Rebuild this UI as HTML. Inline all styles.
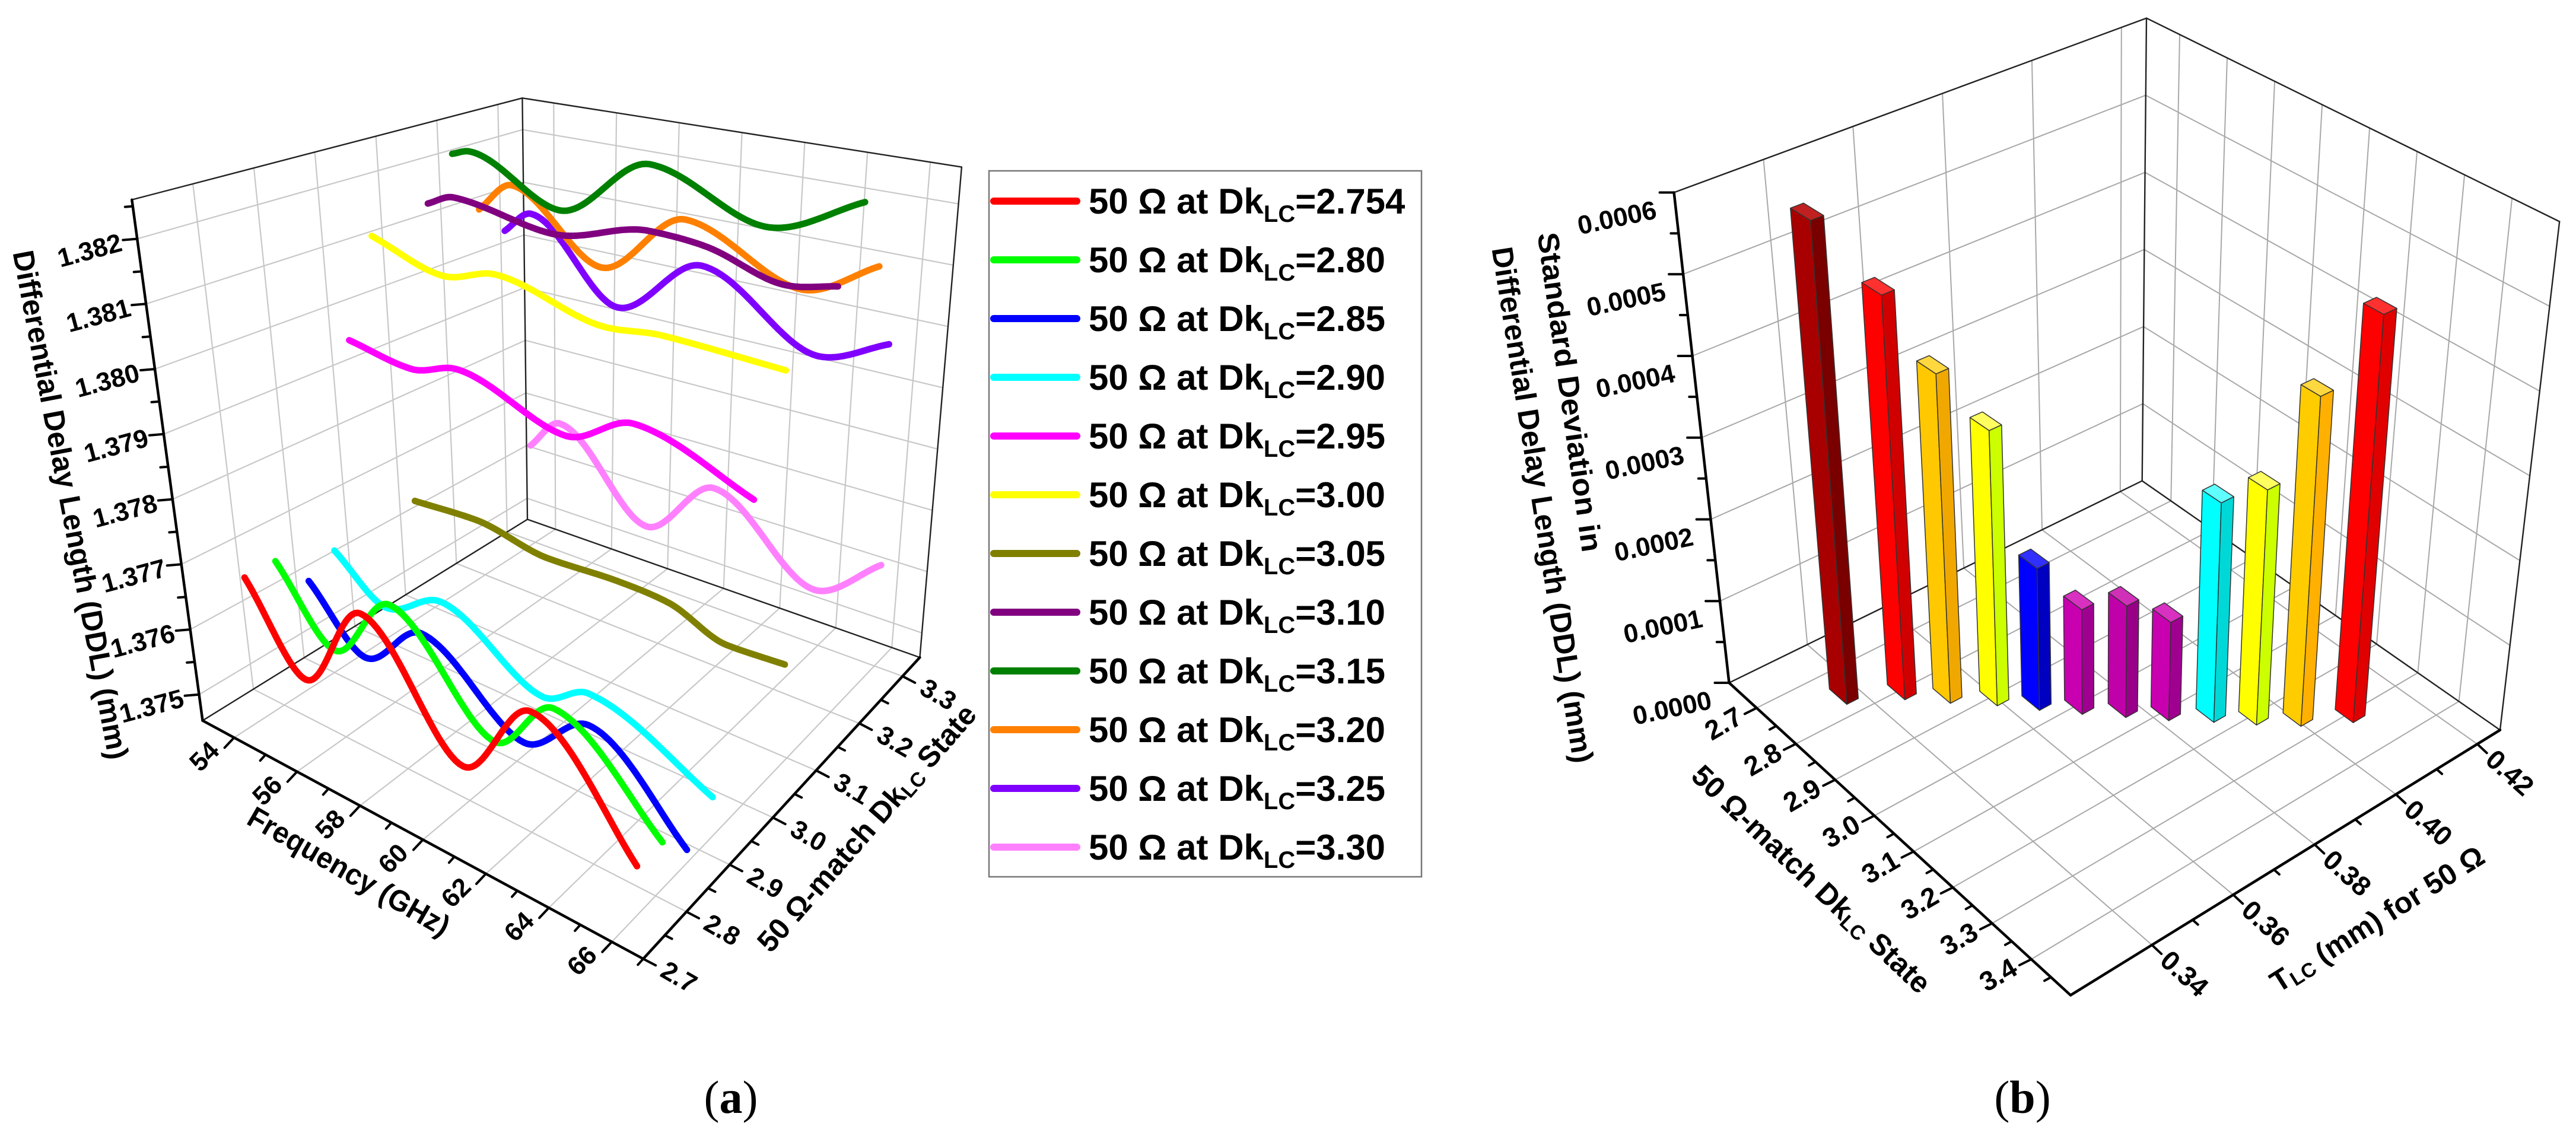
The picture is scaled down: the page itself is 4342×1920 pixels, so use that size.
<!DOCTYPE html>
<html><head><meta charset="utf-8">
<style>
html,body{margin:0;padding:0;background:#fff;width:4342px;height:1920px;overflow:hidden}
svg text{font-family:"Liberation Sans",Arial,sans-serif;font-weight:bold;fill:#000}
</style></head>
<body>
<svg id="fig" width="4342" height="1920" viewBox="0 0 4342 1920" xmlns="http://www.w3.org/2000/svg">
<rect x="0" y="0" width="4342" height="1920" fill="#fff"/>
<g id="chartA"></g>
<g id="legendA">
<rect x="1667" y="288" width="729" height="1190" fill="#fff" stroke="#777" stroke-width="2.5"/>
<g><line x1="1675" y1="339" x2="1815" y2="339" stroke="#ff0000" stroke-width="12" stroke-linecap="round"/><text x="1835" y="360" font-size="60">50 Ω at Dk<tspan font-size="40" dy="14">LC</tspan><tspan dy="-14">=2.754</tspan></text></g>
<g><line x1="1675" y1="438" x2="1815" y2="438" stroke="#00ff00" stroke-width="12" stroke-linecap="round"/><text x="1835" y="459" font-size="60">50 Ω at Dk<tspan font-size="40" dy="14">LC</tspan><tspan dy="-14">=2.80</tspan></text></g>
<g><line x1="1675" y1="537" x2="1815" y2="537" stroke="#0000ff" stroke-width="12" stroke-linecap="round"/><text x="1835" y="558" font-size="60">50 Ω at Dk<tspan font-size="40" dy="14">LC</tspan><tspan dy="-14">=2.85</tspan></text></g>
<g><line x1="1675" y1="636" x2="1815" y2="636" stroke="#00ffff" stroke-width="12" stroke-linecap="round"/><text x="1835" y="657" font-size="60">50 Ω at Dk<tspan font-size="40" dy="14">LC</tspan><tspan dy="-14">=2.90</tspan></text></g>
<g><line x1="1675" y1="735" x2="1815" y2="735" stroke="#ff00ff" stroke-width="12" stroke-linecap="round"/><text x="1835" y="756" font-size="60">50 Ω at Dk<tspan font-size="40" dy="14">LC</tspan><tspan dy="-14">=2.95</tspan></text></g>
<g><line x1="1675" y1="834" x2="1815" y2="834" stroke="#ffff00" stroke-width="12" stroke-linecap="round"/><text x="1835" y="855" font-size="60">50 Ω at Dk<tspan font-size="40" dy="14">LC</tspan><tspan dy="-14">=3.00</tspan></text></g>
<g><line x1="1675" y1="933" x2="1815" y2="933" stroke="#808000" stroke-width="12" stroke-linecap="round"/><text x="1835" y="954" font-size="60">50 Ω at Dk<tspan font-size="40" dy="14">LC</tspan><tspan dy="-14">=3.05</tspan></text></g>
<g><line x1="1675" y1="1032" x2="1815" y2="1032" stroke="#800080" stroke-width="12" stroke-linecap="round"/><text x="1835" y="1053" font-size="60">50 Ω at Dk<tspan font-size="40" dy="14">LC</tspan><tspan dy="-14">=3.10</tspan></text></g>
<g><line x1="1675" y1="1131" x2="1815" y2="1131" stroke="#008000" stroke-width="12" stroke-linecap="round"/><text x="1835" y="1152" font-size="60">50 Ω at Dk<tspan font-size="40" dy="14">LC</tspan><tspan dy="-14">=3.15</tspan></text></g>
<g><line x1="1675" y1="1230" x2="1815" y2="1230" stroke="#ff8000" stroke-width="12" stroke-linecap="round"/><text x="1835" y="1251" font-size="60">50 Ω at Dk<tspan font-size="40" dy="14">LC</tspan><tspan dy="-14">=3.20</tspan></text></g>
<g><line x1="1675" y1="1329" x2="1815" y2="1329" stroke="#8000ff" stroke-width="12" stroke-linecap="round"/><text x="1835" y="1350" font-size="60">50 Ω at Dk<tspan font-size="40" dy="14">LC</tspan><tspan dy="-14">=3.25</tspan></text></g>
<g><line x1="1675" y1="1428" x2="1815" y2="1428" stroke="#ff80ff" stroke-width="12" stroke-linecap="round"/><text x="1835" y="1449" font-size="60">50 Ω at Dk<tspan font-size="40" dy="14">LC</tspan><tspan dy="-14">=3.30</tspan></text></g>
</g>
<g id="chartB"></g>
<text x="1232" y="1876" font-size="78" text-anchor="middle" style="font-family:'Liberation Serif',serif;font-weight:normal">(<tspan font-weight="bold">a</tspan>)</text>
<text x="3409" y="1876" font-size="78" text-anchor="middle" style="font-family:'Liberation Serif',serif;font-weight:normal">(<tspan font-weight="bold">b</tspan>)</text>
</svg>
<script>
// ---------- Chart (a) data ----------
const seriesDk = [2.754, 2.80, 2.85, 2.90, 2.95, 3.00, 3.05, 3.10, 3.15, 3.20, 3.25, 3.30];
const seriesColors = ['#ff0000','#00ff00','#0000ff','#00ffff','#ff00ff','#ffff00','#808000','#800080','#008000','#ff8000','#8000ff','#ff80ff'];
const freq1 = [53.99, 55.63, 57.56, 60.56, 62.73, 66.03];
const ddl1  = [1.37679, 1.37561, 1.37701, 1.37546, 1.37667, 1.37527];
const freq2 = [54.21, 55.86, 57.72, 60.89, 62.75, 66.19];
const ddl2  = [1.37689, 1.37588, 1.37696, 1.37563, 1.37648, 1.37535];
const freq3 = [54.33, 55.98, 57.86, 61.05, 63.12, 66.29];
const ddl3  = [1.37638, 1.37555, 1.37632, 1.37538, 1.37605, 1.37497];
const freq4 = [54.36, 55.91, 57.70, 60.92, 62.37, 66.38];
const ddl4  = [1.37664, 1.37606, 1.37652, 1.37574, 1.37608, 1.37540];
const freq5 = [54.48, 56.33, 57.71, 60.98, 63.02, 66.67];
const ddl5  = [1.37985, 1.37968, 1.37989, 1.37937, 1.37985, 1.37929];
const freq6 = [54.50, 56.60, 58.15, 61.39, 63.11, 66.79];
const ddl6  = [1.38139, 1.38102, 1.38125, 1.38086, 1.38095, 1.38090];
const freq7 = [54.43, 56.42, 58.71, 61.01, 62.68, 64.59, 66.48];
const ddl7  = [1.37676, 1.37682, 1.37663, 1.37668, 1.37664, 1.37634, 1.37638];
const freq8 = [54.46, 55.25, 58.25, 61.16, 62.90, 65.25, 66.85];
const ddl8  = [1.38161, 1.38181, 1.38156, 1.38194, 1.38188, 1.38156, 1.38171];
const freq9 = [54.36, 54.89, 57.60, 60.34, 63.87, 66.82];
const ddl9  = [1.38230, 1.38240, 1.38170, 1.38275, 1.38211, 1.38277];
const freq10 = [54.21, 55.24, 58.03, 60.63, 64.29, 66.67];
const ddl10  = [1.38114, 1.38169, 1.38060, 1.38170, 1.38097, 1.38158];
const freq11 = [54.08, 54.92, 57.69, 60.35, 64.18, 66.43];
const ddl11  = [1.38056, 1.38097, 1.37966, 1.38070, 1.37966, 1.38011];
const freq12 = [53.88, 54.89, 57.90, 60.18, 63.74, 65.98];
const ddl12  = [1.37637, 1.37694, 1.37559, 1.37663, 1.37548, 1.37623];
const freqTicksA = [54, 56, 58, 60, 62, 64, 66];
const freqTickLabelsA = ['54','56','58','60','62','64','66'];
const dkTicksA = [2.7, 2.8, 2.9, 3.0, 3.1, 3.2, 3.3];
const dkTickLabelsA = ['2.7','2.8','2.9','3.0','3.1','3.2','3.3'];
const valTicksA = [1.375, 1.376, 1.377, 1.378, 1.379, 1.380, 1.381, 1.382];
const valTickLabelsA = ['1.375','1.376','1.377','1.378','1.379','1.380','1.381','1.382'];

// ---------- Chart (b) data ----------
const barDk  = [2.754, 2.80, 2.85, 2.90, 2.95, 3.00, 3.05, 3.10, 3.15, 3.20, 3.25, 3.30];
const barT   = [0.3368, 0.3469, 0.3534, 0.3602, 0.3658, 0.3715, 0.3774, 0.3831, 0.3893, 0.3949, 0.4009, 0.4088];
const barStd = [0.000585, 0.000489, 0.000397, 0.000331, 0.000170, 0.000125, 0.000133, 0.000117, 0.000261, 0.000279, 0.000391, 0.000484];
const barColors = [['#a80000','#7a0000','#c02020'],['#ff0000','#d00000','#ff3030'],['#ffc800','#f0a800','#ffd840'],['#ffff00','#ccff00','#ffff60'],['#0000ff','#0000c0','#3030ff'],['#c800b0','#a00090','#d830c0'],['#c000a8','#980088','#d030b8'],['#c800b0','#a00090','#d830c0'],['#00ffff','#00d8d8','#60ffff'],['#ffff00','#ccff00','#ffff60'],['#ffcc00','#ffb000','#ffd840'],['#ff0000','#e00000','#ff3030']];
const dkTicksB = [2.7, 2.8, 2.9, 3.0, 3.1, 3.2, 3.3, 3.4];
const dkTickLabelsB = ['2.7','2.8','2.9','3.0','3.1','3.2','3.3','3.4'];
const tTicksB = [0.34, 0.36, 0.38, 0.40, 0.42];
const tTickLabelsB = ['0.34','0.36','0.38','0.40','0.42'];
const valTicksB = [0, 0.0001, 0.0002, 0.0003, 0.0004, 0.0005, 0.0006];
const valTickLabelsB = ['0.0000','0.0001','0.0002','0.0003','0.0004','0.0005','0.0006'];

const NS = 'http://www.w3.org/2000/svg';
function mk(tag, parent, attrs) { const e = document.createElementNS(NS, tag); for (const k in attrs) e.setAttribute(k, attrs[k]); parent.appendChild(e); return e; }
function seg(parent, a, b, stroke, sw) { return mk('line', parent, {x1:a[0].toFixed(1), y1:a[1].toFixed(1), x2:b[0].toFixed(1), y2:b[1].toFixed(1), stroke:stroke, 'stroke-width':sw, 'stroke-linecap':'round'}); }
function label(parent, x, y, str, size, rot) { return mk('text', parent, {x:x.toFixed(1), y:y.toFixed(1), 'font-size':size, 'text-anchor':'middle', 'dominant-baseline':'central', transform:'rotate(' + rot + ' ' + x.toFixed(1) + ' ' + y.toFixed(1) + ')'}); }
function bil(c00, c10, c11, c01, a, b) { return (1-a)*(1-b)*c00 + a*(1-b)*c10 + a*b*c11 + (1-a)*b*c01; }

function monotone(xs, ys, per) {
  const m = xs.length, d = [], t = [];
  for (let i = 0; i < m-1; i++) d.push((ys[i+1]-ys[i])/(xs[i+1]-xs[i]));
  t[0] = d[0]; t[m-1] = d[m-2];
  for (let i = 1; i < m-1; i++) t[i] = (d[i-1]*d[i] <= 0) ? 0 : (d[i-1]+d[i])/2;
  for (let i = 0; i < m-1; i++) {
    if (d[i] === 0) { t[i] = 0; t[i+1] = 0; continue; }
    const a = t[i]/d[i], b = t[i+1]/d[i], s = a*a + b*b;
    if (s > 9) { const tau = 3/Math.sqrt(s); t[i] = tau*a*d[i]; t[i+1] = tau*b*d[i]; }
  }
  const out = [];
  for (let i = 0; i < m-1; i++) {
    const h = xs[i+1]-xs[i];
    for (let k = 0; k < per; k++) {
      const s = k/per, s2 = s*s, s3 = s2*s;
      const y = (2*s3-3*s2+1)*ys[i] + (s3-2*s2+s)*h*t[i] + (-2*s3+3*s2)*ys[i+1] + (s3-s2)*h*t[i+1];
      out.push([xs[i] + s*h, y]);
    }
  }
  out.push([xs[m-1], ys[m-1]]);
  return out;
}

// ---------- Chart (a) axes ----------
const A_F0 = 53, A_F1 = 67, A_D0 = 2.7, A_D1 = 3.34, A_V0 = 1.3746, A_V1 = 1.3826;
const AL = [315,992], AFr = [1000,1320], AR = [1430,905], AB = [820,715];
const AHL = [-110,-717], AHF = [17,-870], AHR = [65,-675], AHB = [-8,-580];
function projA(f, dk, val) {
  const u = (f - A_F0)/(A_F1 - A_F0), v = (dk - A_D0)/(A_D1 - A_D0), w = (val - A_V0)/(A_V1 - A_V0);
  const x = bil(AL[0],AFr[0],AR[0],AB[0],u,v) + w*bil(AHL[0],AHF[0],AHR[0],AHB[0],u,v);
  const y = bil(AL[1],AFr[1],AR[1],AB[1],u,v) + w*bil(AHL[1],AHF[1],AHR[1],AHB[1],u,v);
  return [x*1.0842, y*1.2245];
}

const gA = document.getElementById('chartA');
const gridA = mk('g', gA, {});


for (const f of freqTicksA) {
  const l1 = seg(gridA, projA(f, A_D0, A_V0), projA(f, A_D1, A_V0), '#c8c8c8', 2.2);
  
  
  const l2 = seg(gridA, projA(f, A_D1, A_V0), projA(f, A_D1, A_V1), '#c8c8c8', 2.2);
  
  
}
for (const d of dkTicksA.slice(1)) {
  const l1 = seg(gridA, projA(A_F0, d, A_V0), projA(A_F1, d, A_V0), '#c8c8c8', 2.2);
  
  
  const l2 = seg(gridA, projA(A_F0, d, A_V0), projA(A_F0, d, A_V1), '#c8c8c8', 2.2);
  
  
}
for (const v of valTicksA) {
  const l1 = seg(gridA, projA(A_F0, A_D0, v), projA(A_F0, A_D1, v), '#c8c8c8', 2.2);
  
  
  const l2 = seg(gridA, projA(A_F0, A_D1, v), projA(A_F1, A_D1, v), '#c8c8c8', 2.2);
  
  
}
const edgesA = [[[A_F0,A_D0,A_V1],[A_F0,A_D1,A_V1]],[[A_F0,A_D1,A_V1],[A_F1,A_D1,A_V1]],[[A_F0,A_D1,A_V0],[A_F0,A_D1,A_V1]],[[A_F1,A_D1,A_V0],[A_F1,A_D1,A_V1]],[[A_F0,A_D0,A_V0],[A_F0,A_D1,A_V0]],[[A_F0,A_D1,A_V0],[A_F1,A_D1,A_V0]]];
for (const e of edgesA) {
  const l = seg(gA, projA(...e[0]), projA(...e[1]), '#222', 2.4);
  
  
}
const axV = seg(gA, projA(A_F0,A_D0,A_V0), projA(A_F0,A_D0,A_V1), '#000', 4.5);


const axF = seg(gA, projA(A_F0,A_D0,A_V0), projA(A_F1,A_D0,A_V0), '#000', 4.5);


const axD = seg(gA, projA(A_F1,A_D0,A_V0), projA(A_F1,A_D1,A_V0), '#000', 4.5);



valTicksA.forEach((v, i) => {
  const p = projA(A_F0, A_D0, v);
  const t = seg(gA, p, [p[0]-24, p[1]+2], '#000', 4);
  
  
  if (v + 0.0005 < A_V1) {
    const pm = projA(A_F0, A_D0, v + 0.0005);
    const tm = seg(gA, pm, [pm[0]-13, pm[1]+1], '#000', 4);
    
    
  }
  const lb = label(gA, p[0]-80, p[1]+20, '', 44, -15);
  lb.textContent = valTickLabelsA[i];
  
  
});
freqTicksA.forEach((f, i) => {
  const p = projA(f, A_D0, A_V0);
  const t = seg(gA, p, [p[0]-16, p[1]+17], '#000', 4);
  
  
  const pm = projA(f + 1, A_D0, A_V0);
  const tm = seg(gA, pm, [pm[0]-9, pm[1]+10], '#000', 4);
  
  
  const lb = label(gA, p[0]-50, p[1]+32, '', 44, -45);
  lb.textContent = freqTickLabelsA[i];
  
  
});
dkTicksA.forEach((d, i) => {
  const p = projA(A_F1, d, A_V0);
  const t = seg(gA, p, [p[0]+21, p[1]+11], '#000', 4);
  
  
  if (d + 0.05 < A_D1) {
    const pm = projA(A_F1, d + 0.05, A_V0);
    const tm = seg(gA, pm, [pm[0]+12, pm[1]+6], '#000', 4);
    
    
  }
  const lb = label(gA, p[0]+60, p[1]+31, '', 44, 30);
  lb.textContent = dkTickLabelsA[i];
  
  
});
const tA1 = mk('text', gA, {x:119, y:851, 'font-size':50, 'text-anchor':'middle', 'dominant-baseline':'central', textLength:872, lengthAdjust:'spacingAndGlyphs', transform:'rotate(79.3 119 851)'});
tA1.textContent = 'Differential Delay Length (DDL) (mm)';


const tA2 = mk('text', gA, {x:588, y:1469, 'font-size':50, 'text-anchor':'middle', 'dominant-baseline':'central', textLength:384, lengthAdjust:'spacingAndGlyphs', transform:'rotate(30 588 1469)'});
tA2.textContent = 'Frequency (GHz)';


const tA3 = mk('text', gA, {x:1461, y:1396, 'font-size':50, 'text-anchor':'middle', 'dominant-baseline':'central', transform:'rotate(-49 1461 1396)'});
tA3.innerHTML = '50 Ω-match Dk<tspan font-size="34" dy="12">LC</tspan><tspan dy="-12"> State</tspan>';



const freqs = [freq1,freq2,freq3,freq4,freq5,freq6,freq7,freq8,freq9,freq10,freq11,freq12];
const ddls = [ddl1,ddl2,ddl3,ddl4,ddl5,ddl6,ddl7,ddl8,ddl9,ddl10,ddl11,ddl12];
const seriesNames = ['series-dk-2754','series-dk-280','series-dk-285','series-dk-290','series-dk-295','series-dk-300','series-dk-305','series-dk-310','series-dk-315','series-dk-320','series-dk-325','series-dk-330'];
for (let s = seriesDk.length - 1; s >= 0; s--) {
  const pts = monotone(freqs[s], ddls[s], 24).map(p => projA(p[0], seriesDk[s], p[1]));
  const d = 'M' + pts.map(p => p[0].toFixed(1) + ',' + p[1].toFixed(1)).join(' L');
  const path = mk('path', gA, {d:d, fill:'none', stroke:seriesColors[s], 'stroke-width':11, 'stroke-linecap':'round', 'stroke-linejoin':'round'});
  
  
}

// ---------- Chart (b) ----------
const B_D0 = 2.63, B_D1 = 3.50, B_T0 = 0.32, B_T1 = 0.4256, B_V0 = 0, B_V1 = 0.0006;
const BL = [385,940], BFr = [862,1370], BR = [1462,1005], BB = [962,662];
const BHL = [-77,-675], BHF = [0,-760], BHR = [83,-700], BHB = [6,-637];
function projB(dk, t, val) {
  const p = (dk - B_D0)/(B_D1 - B_D0), q = (t - B_T0)/(B_T1 - B_T0), w = (val - B_V0)/(B_V1 - B_V0);
  const x = bil(BL[0],BFr[0],BR[0],BB[0],p,q) + w*bil(BHL[0],BHF[0],BHR[0],BHB[0],p,q);
  const y = bil(BL[1],BFr[1],BR[1],BB[1],p,q) + w*bil(BHL[1],BHF[1],BHR[1],BHB[1],p,q);
  return [2450 + x*1.2066, y*1.2245];
}
const gB = document.getElementById('chartB');
const gridB = mk('g', gB, {});


for (const d of dkTicksB) {
  const l1 = seg(gridB, projB(d, B_T0, 0), projB(d, B_T1, 0), '#a8a8a8', 2);
  
  
  const l2 = seg(gridB, projB(d, B_T1, 0), projB(d, B_T1, B_V1), '#a8a8a8', 2);
  
  
}
for (const t of tTicksB) {
  const l1 = seg(gridB, projB(B_D0, t, 0), projB(B_D1, t, 0), '#a8a8a8', 2);
  
  
  const l2 = seg(gridB, projB(B_D0, t, 0), projB(B_D0, t, B_V1), '#a8a8a8', 2);
  
  
}
for (const v of valTicksB.slice(1)) {
  const l1 = seg(gridB, projB(B_D0, B_T0, v), projB(B_D0, B_T1, v), '#a8a8a8', 2);
  
  
  const l2 = seg(gridB, projB(B_D0, B_T1, v), projB(B_D1, B_T1, v), '#a8a8a8', 2);
  
  
}
const edgesB = [[[B_D0,B_T0,B_V1],[B_D0,B_T1,B_V1]],[[B_D0,B_T1,B_V1],[B_D1,B_T1,B_V1]],[[B_D0,B_T1,0],[B_D0,B_T1,B_V1]],[[B_D1,B_T1,0],[B_D1,B_T1,B_V1]],[[B_D0,B_T0,0],[B_D0,B_T1,0]],[[B_D0,B_T1,0],[B_D1,B_T1,0]]];
for (const e of edgesB) {
  const l = seg(gB, projB(...e[0]), projB(...e[1]), '#222', 2.4);
  
  
}
const bxV = seg(gB, projB(B_D0,B_T0,0), projB(B_D0,B_T0,B_V1), '#000', 4.5);


const bxD = seg(gB, projB(B_D0,B_T0,0), projB(B_D1,B_T0,0), '#000', 4.5);


const bxT = seg(gB, projB(B_D1,B_T0,0), projB(B_D1,B_T1,0), '#000', 4.5);


valTicksB.forEach((v, i) => {
  const p = projB(B_D0, B_T0, v);
  const t = seg(gB, p, [p[0]-24, p[1]], '#000', 4);
  
  
  if (v + 0.00005 < B_V1) {
    const pm = projB(B_D0, B_T0, v + 0.00005);
    const tm = seg(gB, pm, [pm[0]-13, pm[1]], '#000', 4);
    
    
  }
  const lb = label(gB, p[0]-96, p[1]+43, '', 44, -12);
  lb.textContent = valTickLabelsB[i];
  
  
});
dkTicksB.forEach((d, i) => {
  const p = projB(d, B_T0, 0);
  const t = seg(gB, p, [p[0]-20, p[1]+10], '#000', 4);
  
  
  if (d + 0.05 < B_D1) {
    const pm = projB(d + 0.05, B_T0, 0);
    const tm = seg(gB, pm, [pm[0]-11, pm[1]+6], '#000', 4);
    
    
  }
  const lb = label(gB, p[0]-56, p[1]+26, '', 46, -30);
  lb.textContent = dkTickLabelsB[i];
  
  
});
tTicksB.forEach((t0, i) => {
  const p = projB(B_D1, t0, 0);
  const t = seg(gB, p, [p[0]+16, p[1]+15], '#000', 4);
  
  
  if (t0 + 0.01 < B_T1) {
    const pm = projB(B_D1, t0 + 0.01, 0);
    const tm = seg(gB, pm, [pm[0]+9, pm[1]+8], '#000', 4);
    
    
  }
  const lb = label(gB, p[0]+55, p[1]+48, '', 46, 42);
  lb.textContent = tTickLabelsB[i];
  
  
});
const tB1 = mk('text', gB, {x:2646, y:661, 'font-size':50, 'text-anchor':'middle', 'dominant-baseline':'central', textLength:543, lengthAdjust:'spacingAndGlyphs', transform:'rotate(82 2646 661)'});
tB1.textContent = 'Standard Deviation in';


const tB2 = mk('text', gB, {x:2600, y:851, 'font-size':50, 'text-anchor':'middle', 'dominant-baseline':'central', textLength:880, lengthAdjust:'spacingAndGlyphs', transform:'rotate(81 2600 851)'});
tB2.textContent = 'Differential Delay Length (DDL) (mm)';


const tB3 = mk('text', gB, {x:3053, y:1482, 'font-size':50, 'text-anchor':'middle', 'dominant-baseline':'central', transform:'rotate(43.5 3053 1482)'});
tB3.innerHTML = '50 Ω-match Dk<tspan font-size="34" dy="12">LC</tspan><tspan dy="-12"> State</tspan>';


const tB4 = mk('text', gB, {x:4007, y:1549, 'font-size':50, 'text-anchor':'middle', 'dominant-baseline':'central', transform:'rotate(-32.3 4007 1549)'});
tB4.innerHTML = 'T<tspan font-size="34" dy="12">LC</tspan><tspan dy="-12"> (mm) for 50 Ω</tspan>';



const DDK = 0.022, DT = 0.00146;
function poly(parent, pts, fill) { return mk('polygon', parent, {points: pts.map(p => p[0].toFixed(1) + ',' + p[1].toFixed(1)).join(' '), fill: fill, stroke: '#333', 'stroke-width': 1.5, 'stroke-linejoin': 'round'}); }
for (let i = 0; i < barDk.length; i++) {
  const g = mk('g', gB, {});
  
  
  const d0 = barDk[i] - DDK, d1 = barDk[i] + DDK, t0 = barT[i] - DT, t1 = barT[i] + DT, h = barStd[i];
  const left = poly(g, [projB(d0,t0,0), projB(d1,t0,0), projB(d1,t0,h), projB(d0,t0,h)], barColors[i][0]);
  
  
  const right = poly(g, [projB(d1,t0,0), projB(d1,t1,0), projB(d1,t1,h), projB(d1,t0,h)], barColors[i][1]);
  
  
  const top = poly(g, [projB(d0,t0,h), projB(d1,t0,h), projB(d1,t1,h), projB(d0,t1,h)], barColors[i][2]);
  
  
}
</script>
</body></html>
